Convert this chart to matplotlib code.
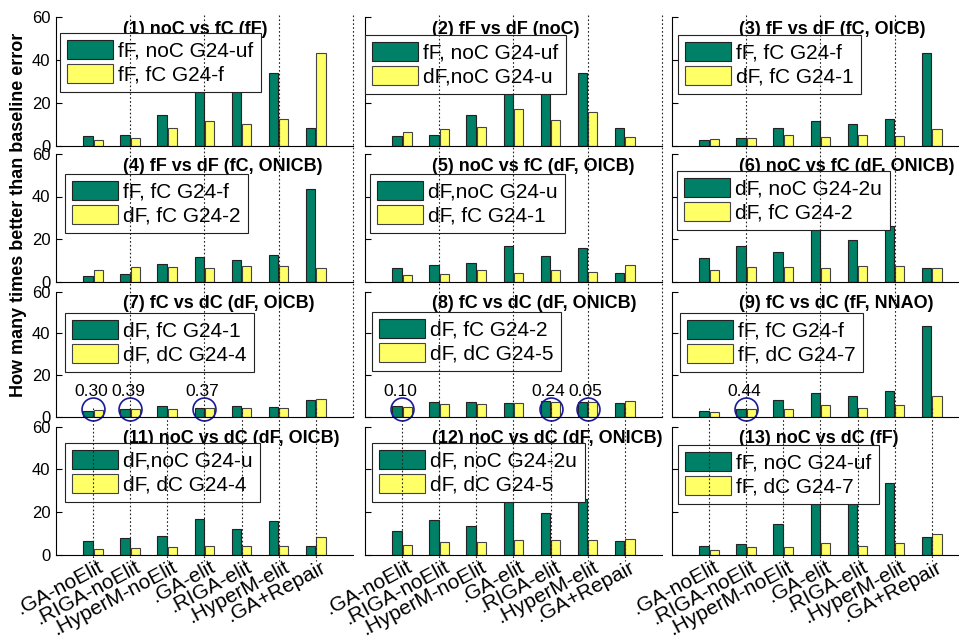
import matplotlib
matplotlib.use('Agg')
import matplotlib.pyplot as plt
from matplotlib.lines import Line2D

plt.rcParams['font.family'] = ['Liberation Sans', 'DejaVu Sans']

# x categories
methods = ['.GA-noElit', '.RIGA-noElit', '.HyperM-noElit', '.GA-elit',
           '.RIGA-elit', '.HyperM-elit', '.GA+Repair']

# series (how many times better than baseline error)
fF_noC_uf = [4.4, 5.1, 14.4, 28.4, 25.7, 33.7, 8.4]
fF_fC_f = [2.7, 3.6, 8.1, 11.6, 10.1, 12.3, 43.3]
dF_noC_u = [6.4, 7.9, 8.9, 16.9, 12.1, 15.9, 4.0]
dF_fC_1 = [2.9, 3.6, 5.2, 4.2, 5.2, 4.7, 7.8]
dF_fC_2 = [5.3, 7.0, 7.0, 6.4, 7.3, 7.2, 6.5]
dF_noC_2u = [11.1, 16.5, 13.7, 24.7, 19.7, 26.2, 6.4]
dF_dC_4 = [3.0, 3.5, 3.8, 4.1, 4.0, 4.0, 8.6]
dF_dC_5 = [4.6, 6.1, 6.1, 6.8, 7.0, 7.0, 7.6]
fF_dC_7 = [2.4, 3.6, 3.6, 5.6, 4.0, 5.6, 10.0]

# panel: title, green series, green label, yellow series, yellow label, legend top-left (px), marked groups
panels = [
    ('(1) noC vs fC (fF)', fF_noC_uf, 'fF, noC G24-uf', fF_fC_f, 'fF, fC G24-f', (60, 33), {}),
    ('(2) fF vs dF (noC)', fF_noC_uf, 'fF, noC G24-uf', dF_noC_u, 'dF,noC G24-u', (365, 35), {}),
    ('(3) fF vs dF (fC, OICB)', fF_fC_f, 'fF, fC G24-f', dF_fC_1, 'dF, fC G24-1', (678, 35), {}),
    ('(4) fF vs dF (fC, ONICB)', fF_fC_f, 'fF, fC G24-f', dF_fC_2, 'dF, fC G24-2', (65, 174), {}),
    ('(5) noC vs fC (dF, OICB)', dF_noC_u, 'dF,noC G24-u', dF_fC_1, 'dF, fC G24-1', (370, 174), {}),
    ('(6) noC vs fC (dF, ONICB)', dF_noC_2u, 'dF, noC G24-2u', dF_fC_2, 'dF, fC G24-2', (677, 171), {}),
    ('(7) fC vs dC (dF, OICB)', dF_fC_1, 'dF, fC G24-1', dF_dC_4, 'dF, dC G24-4', (65, 313),
     {0: '0.30', 1: '0.39', 3: '0.37'}),
    ('(8) fC vs dC (dF, ONICB)', dF_fC_2, 'dF, fC G24-2', dF_dC_5, 'dF, dC G24-5', (372, 312),
     {0: '0.10', 4: '0.24', 5: '0.05'}),
    ('(9) fC vs dC (fF, NNAO)', fF_fC_f, 'fF, fC G24-f', fF_dC_7, 'fF, dC G24-7', (680, 313),
     {1: '0.44'}),
    ('(11) noC vs dC (dF, OICB)', dF_noC_u, 'dF,noC G24-u', dF_dC_4, 'dF, dC G24-4', (65, 443), {}),
    ('(12) noC vs dC (dF, ONICB)', dF_noC_2u, 'dF, noC G24-2u', dF_dC_5, 'dF, dC G24-5', (372, 443), {}),
    ('(13) noC vs dC (fF)', fF_noC_uf, 'fF, noC G24-uf', fF_dC_7, 'fF, dC G24-7', (678, 445), {}),
]

W, H = 959, 643
green = '#008066'
yellow = '#ffff66'
unit = 37.1
col_x0 = [56, 365, 672]
row_top = [16.8, 154, 291.7, 426.7]
row_bot = [145.7, 281.5, 416.7, 555]

fig = plt.figure(figsize=(W / 100, H / 100), dpi=100)

for k, (title, g, glab, y, ylab, leg_px, marks) in enumerate(panels):
    r, c = divmod(k, 3)
    x0 = col_x0[c]
    ax = fig.add_axes([x0 / W, 1 - row_bot[r] / H, 8 * unit / W, (row_bot[r] - row_top[r]) / H])
    xs = range(1, len(methods) + 1)
    ax.bar([x - 0.14 for x in xs], g, 0.25, color=green, edgecolor='#222222', linewidth=0.8, label=glab)
    ax.bar([x + 0.14 for x in xs], y, 0.25, color=yellow, edgecolor='#444444', linewidth=0.8, label=ylab)
    ax.set_xlim(0, 8)
    ax.set_ylim(0, 60)
    ax.set_yticks([0, 20, 40, 60])
    ax.tick_params(axis='y', direction='in', length=4, labelsize=12, pad=4)
    if c > 0:
        ax.set_yticklabels([])
    ax.set_xticks([])
    for s in ['top', 'right']:
        ax.spines[s].set_visible(False)
    ax.patch.set_alpha(0)

    ax.text(1.8, 0.905, title, transform=ax.get_xaxis_transform(), ha='left', va='center',
            fontsize=13, fontweight='bold')

    lx = (leg_px[0] - x0) / (8 * unit)
    ly = (row_bot[r] - leg_px[1]) / (row_bot[r] - row_top[r])
    leg = ax.legend(loc='upper left', bbox_to_anchor=(lx, ly), borderaxespad=0, fontsize=15,
                    handlelength=2.2, handleheight=1.0, handletextpad=0.25, borderpad=0.35,
                    labelspacing=0.15, fancybox=False, framealpha=1)
    leg.get_frame().set_edgecolor('#222222')
    leg.get_frame().set_linewidth(0.8)

    # circled groups with p-values
    for i, txt in marks.items():
        ax.plot(i + 1, 3.5, 'o', ms=16.5, mfc='none', mec='#1a1a99', mew=1.2, clip_on=False)
        ax.text(i + 1 - 0.05, 12, txt, ha='center', va='center', fontsize=12.5)

    if r == 3:
        for i, m in enumerate(methods):
            ax.text(i + 1.12, -1.2, m, rotation=28, rotation_mode='anchor', ha='right', va='top',
                    fontsize=15, clip_on=False)

# dotted guide lines
for c in range(3):
    for i in range(1, 9):
        px = col_x0[c] + i * unit
        if i % 2 == 0:
            fig.add_artist(Line2D([px / W, px / W], [1 - 15 / H, 1 - 418 / H], color='#222222',
                                  linestyle=(0, (1.5, 2)), linewidth=0.8, zorder=10))
        if i < 8:
            fig.add_artist(Line2D([px / W, px / W], [1 - 408 / H, 1 - 561 / H], color='#222222',
                                  linestyle=(0, (1.5, 2)), linewidth=0.8, zorder=10))

fig.text(19 / W, 1 - 215 / H, 'How many times better than baseline error', rotation=90,
         ha='center', va='center', fontsize=13, fontweight='bold')

fig.savefig('out.png', dpi=100)
